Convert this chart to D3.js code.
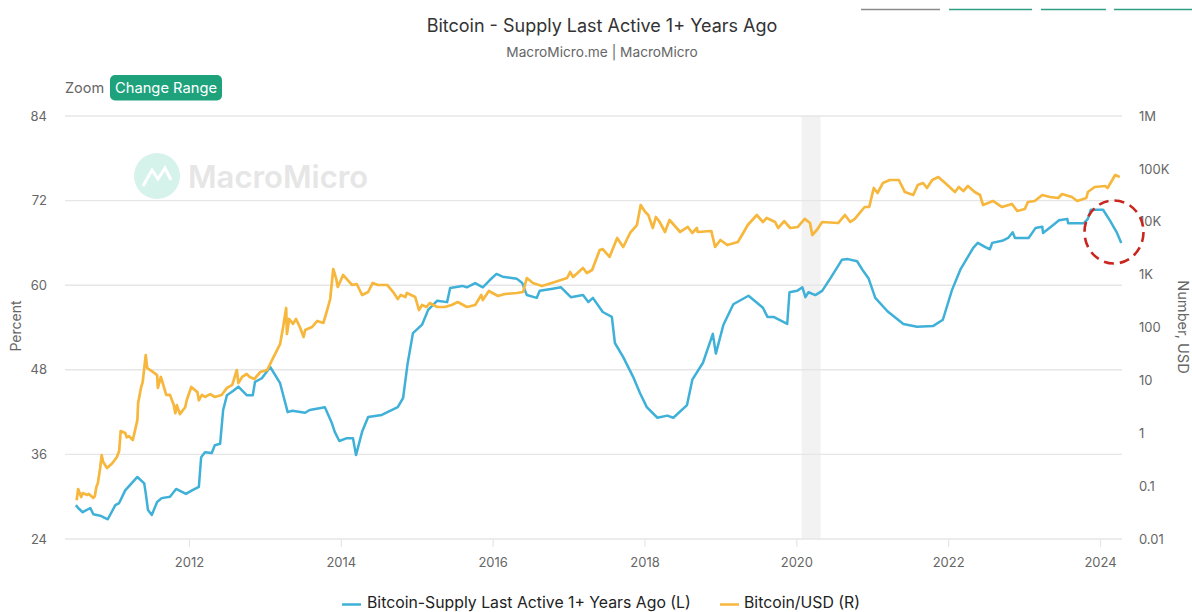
<!DOCTYPE html>
<html><head><meta charset="utf-8">
<script src="https://cdnjs.cloudflare.com/ajax/libs/d3/7.8.5/d3.min.js"></script>
<style>
html,body{margin:0;padding:0;background:#fff}
svg{display:block}
text{font-family:Inter,"Noto Sans",sans-serif}
</style></head><body>
<svg id="c" width="1192" height="612"></svg>
<script>
const titleText = "Bitcoin - Supply Last Active 1+ Years Ago";
const subtitleText = "MacroMicro.me | MacroMicro";
const leftTicks = [24,36,48,60,72,84];
const rightTicks = [0.01,0.1,1,10,100,1000,10000,100000,1000000];
const rightLabels = ["0.01","0.1","1","10","100","1K","10K","100K","1M"];
const xTicks = [2012,2014,2016,2018,2020,2022,2024];
const recession = [2020.07,2020.32];
const supplyYears = [2010.51,2010.54,2010.60,2010.70,2010.74,2010.83,2010.93,2011.03,2011.08,2011.16,2011.32,2011.41,2011.43,2011.46,2011.51,2011.58,2011.64,2011.75,2011.83,2011.96,2012.04,2012.13,2012.16,2012.21,2012.30,2012.34,2012.41,2012.45,2012.50,2012.58,2012.65,2012.76,2012.84,2012.87,2012.96,2013.07,2013.20,2013.30,2013.36,2013.53,2013.59,2013.79,2013.88,2013.92,2013.98,2014.08,2014.16,2014.20,2014.28,2014.36,2014.54,2014.75,2014.82,2014.88,2014.95,2015.07,2015.15,2015.27,2015.40,2015.44,2015.60,2015.66,2015.77,2015.87,2015.96,2016.05,2016.13,2016.32,2016.39,2016.45,2016.58,2016.62,2016.79,2016.90,2017.03,2017.19,2017.26,2017.32,2017.45,2017.57,2017.61,2017.72,2017.85,2017.94,2018.03,2018.17,2018.30,2018.38,2018.56,2018.63,2018.77,2018.90,2018.94,2019.04,2019.17,2019.37,2019.56,2019.62,2019.70,2019.88,2019.91,2020.01,2020.08,2020.12,2020.16,2020.25,2020.34,2020.45,2020.60,2020.68,2020.80,2020.87,2020.95,2021.04,2021.20,2021.41,2021.59,2021.80,2021.93,2022.05,2022.16,2022.33,2022.39,2022.49,2022.55,2022.58,2022.71,2022.79,2022.85,2022.88,2023.06,2023.15,2023.24,2023.25,2023.38,2023.46,2023.57,2023.58,2023.79,2023.84,2023.88,2024.04,2024.13,2024.22,2024.28];
const supplyPct = [28.8,28.4,27.8,28.4,27.5,27.3,26.8,28.8,29.1,30.9,32.8,31.9,30.5,28.1,27.4,29.25,29.8,30.0,31.1,30.4,30.9,31.4,35.6,36.3,36.2,37.3,37.5,42.3,44.4,45.0,45.6,44.4,44.4,46.3,46.8,48.4,46.1,42.0,42.2,41.9,42.3,42.7,40.5,39.2,37.9,38.3,38.3,35.9,39.2,41.3,41.6,42.7,44.0,48.9,53.2,54.4,56.5,57.8,57.6,59.6,59.9,59.7,60.3,59.7,60.7,61.6,61.2,60.9,60.3,58.6,58.2,59.2,59.5,59.7,58.3,58.6,57.6,58.2,56.2,55.5,51.8,49.8,47.0,44.7,42.7,41.2,41.5,41.2,43.0,46.6,49.0,53.1,50.3,54.4,57.3,58.5,56.8,55.5,55.5,54.5,59.0,59.2,59.7,58.3,59.0,58.6,59.2,61.0,63.6,63.7,63.4,62.2,61.0,58.2,56.3,54.5,54.1,54.2,55.1,59.3,62.2,65.3,66.0,65.4,65.1,66.0,66.3,66.7,67.5,66.7,66.7,68.1,68.3,67.4,68.5,69.2,69.4,68.8,68.8,69.4,70.7,70.7,69.2,67.5,66.0];
const priceYears = [2010.52,2010.54,2010.58,2010.60,2010.66,2010.68,2010.74,2010.76,2010.78,2010.80,2010.83,2010.85,2010.87,2010.92,2010.99,2011.05,2011.08,2011.10,2011.16,2011.18,2011.21,2011.26,2011.32,2011.33,2011.37,2011.39,2011.43,2011.45,2011.51,2011.58,2011.59,2011.63,2011.70,2011.75,2011.80,2011.82,2011.84,2011.88,2011.95,2011.97,2012.03,2012.11,2012.13,2012.17,2012.21,2012.28,2012.34,2012.43,2012.50,2012.57,2012.63,2012.65,2012.70,2012.76,2012.80,2012.86,2012.94,2013.03,2013.11,2013.20,2013.24,2013.28,2013.29,2013.32,2013.37,2013.41,2013.46,2013.51,2013.53,2013.62,2013.69,2013.77,2013.82,2013.86,2013.90,2013.94,2013.96,2014.03,2014.09,2014.15,2014.21,2014.28,2014.36,2014.42,2014.49,2014.61,2014.69,2014.75,2014.79,2014.85,2014.87,2014.98,2015.03,2015.07,2015.13,2015.17,2015.27,2015.37,2015.46,2015.54,2015.66,2015.77,2015.85,2015.87,2015.95,2016.07,2016.16,2016.32,2016.40,2016.45,2016.53,2016.65,2016.82,2016.98,2017.02,2017.06,2017.19,2017.24,2017.31,2017.41,2017.45,2017.54,2017.64,2017.72,2017.81,2017.90,2017.95,2018.01,2018.05,2018.11,2018.15,2018.20,2018.27,2018.33,2018.47,2018.57,2018.63,2018.69,2018.70,2018.88,2018.93,2019.00,2019.09,2019.23,2019.30,2019.36,2019.48,2019.56,2019.61,2019.72,2019.76,2019.84,2019.92,2020.02,2020.11,2020.18,2020.21,2020.27,2020.34,2020.55,2020.64,2020.71,2020.77,2020.90,2020.96,2021.02,2021.07,2021.14,2021.23,2021.35,2021.43,2021.54,2021.60,2021.67,2021.72,2021.79,2021.87,2021.96,2022.09,2022.14,2022.20,2022.26,2022.35,2022.42,2022.46,2022.59,2022.71,2022.84,2022.91,2023.01,2023.05,2023.14,2023.24,2023.34,2023.45,2023.50,2023.63,2023.70,2023.82,2023.84,2023.93,2024.07,2024.10,2024.20,2024.26];
const priceUSD = [0.054,0.088,0.062,0.074,0.068,0.071,0.06,0.065,0.096,0.115,0.22,0.385,0.285,0.22,0.27,0.356,0.46,1.1,1.01,0.84,0.88,0.745,1.77,3.73,7.5,9.3,30,17.1,15,12.6,7.2,11.6,5.3,5.3,3.4,2.4,3.4,2.3,3.1,4.2,7.5,6.0,4.2,5.3,4.85,5.5,4.85,5.3,7.2,8.2,15.7,8.9,11.6,13.2,11.6,10.6,14.4,15.7,27,48.5,102,234,75.6,145,117,145,102,66,89.5,102,133,122,214,346,1277,826,583,985,790,637,665,412,469,695,637,637,469,346,412,377,449,377,214,267,244,290,244,244,267,303,244,267,412,331,491,394,430,449,469,863,695,610,725,863,1120,903,1334,1074,1225,2926,3050,2160,4930,3330,6130,8670,20700,15300,13400,7620,12300,9890,6400,10800,6400,7960,6130,7620,6400,6680,3330,4520,3630,4140,6130,8670,13400,9890,11800,9890,7620,10300,7620,7960,11300,9460,5610,6980,9890,9460,13400,9890,11300,19000,19000,43500,35000,54000,61600,61600,36500,32000,49500,54000,43500,61600,70200,54000,36500,45400,38200,47400,36500,32000,20700,24700,19000,21700,16000,17400,23600,24700,32000,29400,28100,33500,29400,24700,28100,36500,45400,47400,43500,76600,70200];
const seriesNames = ["Bitcoin-Supply Last Active 1+ Years Ago (L)","Bitcoin/USD (R)"];
const navSegments = [[861,940,"#8a8a8a"],[949,1032,"#2e9e84"],[1041,1106,"#2e9e84"],[1114,1192,"#2e9e84"]];

const svg = d3.select("#c");
const X0=66,X1=1122,Y0=539,Y1=116;
const x = d3.scaleLinear().domain([2012-(189-X0)/75.92,2024+(X1-1100)/75.92]).range([X0,X1]);
const yL = d3.scaleLinear().domain([24,84]).range([Y0,Y1]);
const yR = d3.scaleLog().domain([0.01,1000000]).range([Y0,Y1]);
const GRID="#e6e6e6",TXT="#666";

svg.append("rect").attr("x",x(recession[0])).attr("y",Y1).attr("width",x(recession[1])-x(recession[0])).attr("height",Y0-Y1).attr("fill","#f2f2f2");

const gl = svg.append("g").attr("transform",`translate(${X0-1},0)`)
  .call(d3.axisLeft(yL).tickValues(leftTicks).tickSize(0).tickPadding(18));
gl.select(".domain").remove();
gl.selectAll("text").attr("fill",TXT).attr("font-size",13);
svg.append("g").selectAll("line").data(leftTicks).join("line")
  .attr("x1",X0-1).attr("x2",X1).attr("y1",d=>yL(d)).attr("y2",d=>yL(d)).attr("stroke",GRID).attr("stroke-width",1.4);

const gr = svg.append("g").attr("transform",`translate(${X1},0)`)
  .call(d3.axisRight(yR).tickValues(rightTicks).tickFormat((d,i)=>rightLabels[i]).tickSize(0).tickPadding(17));
gr.select(".domain").remove();
gr.selectAll("text").attr("fill",TXT).attr("font-size",13);

const gx = svg.append("g").attr("transform",`translate(0,${Y0})`)
  .call(d3.axisBottom(x).tickValues(xTicks).tickFormat(d3.format("d")).tickSize(8).tickPadding(11));
gx.select(".domain").remove();
gx.selectAll("line").attr("stroke",GRID).attr("stroke-width",1.2);
gx.selectAll("text").attr("fill",TXT).attr("font-size",13);

const wm = svg.append("g");
wm.append("circle").attr("cx",157).attr("cy",176).attr("r",23).attr("fill","#d5f3ea");
wm.append("path").attr("d","M143 186 L152 170 L158 179 L165 168 L171 180").attr("fill","none").attr("stroke","#fff").attr("stroke-width",3);
wm.append("text").attr("x",188).attr("y",188).attr("font-size",31).attr("font-weight",600).attr("fill","#e6e6e6").text("MacroMicro");

const lineL = d3.line().x(d=>x(d[0])).y(d=>yL(d[1]));
const lineR = d3.line().x(d=>x(d[0])).y(d=>yR(d[1]));
svg.append("path").datum(d3.zip(supplyYears,supplyPct)).attr("d",lineL).attr("fill","none").attr("stroke","#3fb0d8").attr("stroke-width",2.5).attr("stroke-linejoin","round");
svg.append("path").datum(d3.zip(priceYears,priceUSD)).attr("d",lineR).attr("fill","none").attr("stroke","#f6b73c").attr("stroke-width",2.7).attr("stroke-linejoin","round");

svg.append("ellipse").attr("cx",1114).attr("cy",232).attr("rx",29.5).attr("ry",31.5).attr("fill","none").attr("stroke","#c9261d").attr("stroke-width",2.6).attr("stroke-dasharray","10 6");

svg.append("text").attr("x",602).attr("y",32).attr("text-anchor","middle").attr("font-size",18).attr("fill","#333").text(titleText);
svg.append("text").attr("x",602).attr("y",57).attr("text-anchor","middle").attr("font-size",13.7).attr("fill",TXT).text(subtitleText);
svg.append("text").attr("x",65).attr("y",93).attr("font-size",14.5).attr("fill",TXT).text("Zoom");
svg.append("rect").attr("x",110).attr("y",75).attr("width",112).attr("height",25.5).attr("rx",5).attr("fill","#1ea27c");
svg.append("text").attr("x",166).attr("y",93).attr("text-anchor","middle").attr("font-size",14.7).attr("fill","#fff").text("Change Range");
svg.append("text").attr("transform","translate(20.5,326) rotate(-90)").attr("text-anchor","middle").attr("font-size",14).attr("fill",TXT).text("Percent");
svg.append("text").attr("transform","translate(1178,327) rotate(90)").attr("text-anchor","middle").attr("font-size",14.6).attr("fill",TXT).text("Number, USD");

svg.append("g").selectAll("line").data(navSegments).join("line")
  .attr("x1",d=>d[0]).attr("x2",d=>d[1]).attr("y1",9.5).attr("y2",9.5).attr("stroke",d=>d[2]).attr("stroke-width",1.5);

const colors=["#3fb0d8","#f6b73c"], lx=[342,720], tx=[367,744];
seriesNames.forEach((n,i)=>{
  svg.append("line").attr("x1",lx[i]).attr("x2",lx[i]+19).attr("y1",604.5).attr("y2",604.5).attr("stroke",colors[i]).attr("stroke-width",2.5);
  svg.append("text").attr("x",tx[i]).attr("y",608).attr("font-size",15.8).attr("fill","#222").text(n);
});
</script></body></html>
